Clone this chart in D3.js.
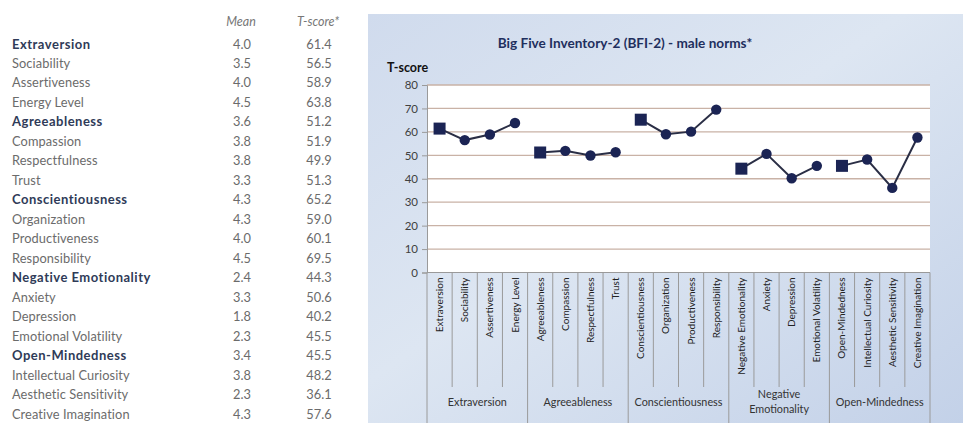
<!DOCTYPE html>
<html><head><meta charset="utf-8">
<script src="https://cdn.jsdelivr.net/npm/d3@7"></script>
<style>body{margin:0;background:#fff;}svg{display:block;}</style>
</head><body>
<svg id="c" width="963" height="423"></svg>
<script>
const rowLabels = ["Extraversion","Sociability","Assertiveness","Energy Level","Agreeableness","Compassion","Respectfulness","Trust","Conscientiousness","Organization","Productiveness","Responsibility","Negative Emotionality","Anxiety","Depression","Emotional Volatility","Open-Mindedness","Intellectual Curiosity","Aesthetic Sensitivity","Creative Imagination"];
const domainRows = ["Extraversion","Agreeableness","Conscientiousness","Negative Emotionality","Open-Mindedness"];
const means = ["4.0","3.5","4.0","4.5","3.6","3.8","3.8","3.3","4.3","4.3","4.0","4.5","2.4","3.3","1.8","2.3","3.4","3.8","2.3","4.3"];
const tscores = [61.4,56.5,58.9,63.8,51.2,51.9,49.9,51.3,65.2,59.0,60.1,69.5,44.3,50.6,40.2,45.5,45.5,48.2,36.1,57.6];
const groups = [["Extraversion"],["Agreeableness"],["Conscientiousness"],["Negative","Emotionality"],["Open-Mindedness"]];
const groupSize = 4;
const yTicks = [0,10,20,30,40,50,60,70,80];
const chartTitle = "Big Five Inventory-2 (BFI-2) - male norms*";
const yTitle = "T-score";

(function(){
const svg = d3.select("#c");
const font = "Lato, 'Open Sans', sans-serif";

// ---------- table ----------
const tbl = svg.append("g").attr("font-family", font);
const rowY = d3.scalePoint().domain(d3.range(rowLabels.length)).range([44, 414]);
tbl.append("text").attr("x", 241).attr("y", 26).attr("text-anchor","middle")
  .attr("font-style","italic").attr("font-size",12.5).attr("fill","#777").text("Mean");
tbl.append("text").attr("x", 318).attr("y", 26).attr("text-anchor","middle")
  .attr("font-style","italic").attr("font-size",12.5).attr("fill","#777").text("T-score*");
rowLabels.forEach((lab,i)=>{
  const bold = domainRows.includes(lab);
  tbl.append("text").attr("x",12).attr("y",rowY(i)+4.5).attr("font-size",bold?13:12.8)
    .attr("letter-spacing", bold?0.5:0.1)
    .attr("font-weight", bold?"bold":"normal").attr("fill", bold?"#2f3b58":"#6b6b6b").text(lab);
  tbl.append("text").attr("x",242).attr("y",rowY(i)+4.5).attr("text-anchor","middle")
    .attr("font-size",12.8).attr("fill","#6b6b6b").text(means[i]);
  tbl.append("text").attr("x",319).attr("y",rowY(i)+4.5).attr("text-anchor","middle")
    .attr("font-size",12.8).attr("fill","#6b6b6b").text(tscores[i].toFixed(1));
});

// ---------- chart panel ----------
const defs = svg.append("defs");
const grad = defs.append("linearGradient").attr("id","bg").attr("x1","0").attr("y1","0").attr("x2","1").attr("y2","1");
grad.append("stop").attr("offset","0").attr("stop-color","#d0dbed");
grad.append("stop").attr("offset","0.45").attr("stop-color","#dde6f2");
grad.append("stop").attr("offset","1").attr("stop-color","#c3d1e8");
svg.append("rect").attr("x",368).attr("y",14).attr("width",595).attr("height",409).attr("fill","url(#bg)");

const pLeft = 427, pRight = 930, pTop = 85, pBottom = 272.5;
const x = d3.scaleBand().domain(rowLabels).range([pLeft,pRight]);
const y = d3.scaleLinear().domain([0,80]).range([pBottom,pTop]);

svg.append("rect").attr("x",pLeft).attr("y",pTop).attr("width",pRight-pLeft).attr("height",pBottom-pTop).attr("fill","#fff");

// gridlines
svg.append("g").selectAll("line").data(yTicks.filter(d=>d>0)).join("line")
  .attr("x1",pLeft).attr("x2",pRight).attr("y1",d=>y(d)).attr("y2",d=>y(d))
  .attr("stroke","#c9b2a6").attr("stroke-width",1.3);

// y axis
const yAxis = svg.append("g").attr("transform",`translate(${pLeft},0)`)
  .call(d3.axisLeft(y).tickValues(yTicks).tickSize(5).tickPadding(4));
yAxis.select(".domain").attr("stroke","#9a9a9a");
yAxis.selectAll(".tick line").attr("stroke","#9a9a9a");
yAxis.selectAll("text").attr("font-family",font).attr("font-size",11.5).attr("fill","#404040");

// x axis base line
svg.append("line").attr("x1",pLeft).attr("x2",pRight).attr("y1",pBottom).attr("y2",pBottom).attr("stroke","#9a9a9a");

// category separators
const sepG = svg.append("g");
d3.range(rowLabels.length+1).forEach(i=>{
  const xx = i<rowLabels.length ? x(rowLabels[i]) : pRight;
  const isGroup = i % groupSize === 0;
  sepG.append("line").attr("x1",xx).attr("x2",xx).attr("y1",pBottom)
    .attr("y2", isGroup ? 423 : 387).attr("stroke","#9a9a9a").attr("stroke-width",1);
});

// category labels
svg.append("g").selectAll("text").data(rowLabels).join("text")
  .attr("transform",d=>`translate(${x(d)+x.bandwidth()/2+3.5},${pBottom+5}) rotate(-90)`)
  .attr("text-anchor","end").attr("font-family",font).attr("font-size",10).attr("fill","#222")
  .text(d=>d);

// group labels
groups.forEach((g,gi)=>{
  const x0 = x(rowLabels[gi*groupSize]);
  const gx = x0 + x.bandwidth()*groupSize/2;
  g.forEach((line,li)=>{
    svg.append("text").attr("x",gx).attr("y",(g.length>1 ? 397.5 : 405.5) + li*15)
      .attr("text-anchor","middle").attr("font-family",font).attr("font-size",10.8).attr("fill","#333").text(line);
  });
});

// lines and markers
const cx = d => x(d)+x.bandwidth()/2;
groups.forEach((g,gi)=>{
  const idx = d3.range(gi*groupSize,(gi+1)*groupSize);
  const line = d3.line().x(i=>cx(rowLabels[i])).y(i=>y(tscores[i]));
  svg.append("path").attr("d",line(idx)).attr("fill","none").attr("stroke","#2a2e45").attr("stroke-width",2);
  idx.forEach((i,k)=>{
    if(k===0){
      svg.append("rect").attr("x",cx(rowLabels[i])-6).attr("y",y(tscores[i])-6)
        .attr("width",12).attr("height",12).attr("fill","#1b2454");
    } else {
      svg.append("circle").attr("cx",cx(rowLabels[i])).attr("cy",y(tscores[i])).attr("r",5.2).attr("fill","#1b2454");
    }
  });
});

// titles
svg.append("text").attr("x",625).attr("y",48).attr("text-anchor","middle")
  .attr("font-family",font).attr("font-weight","bold").attr("font-size",13.6).attr("fill","#1f2f5e").text(chartTitle);
svg.append("text").attr("x",387).attr("y",72)
  .attr("font-family",font).attr("font-weight","bold").attr("font-size",12.5).attr("fill","#111").text(yTitle);
})();
</script>
</body></html>
